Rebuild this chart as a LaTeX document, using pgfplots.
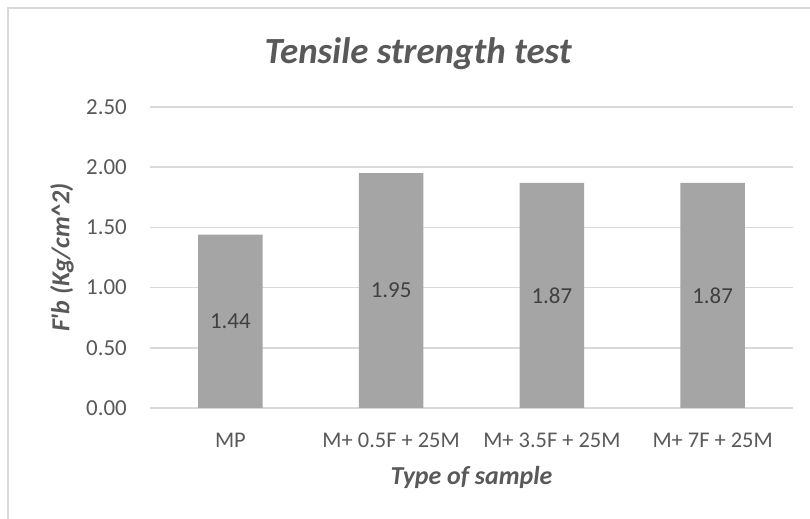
\documentclass[border=0pt]{standalone}
\usepackage{fontspec}
\setmainfont{Carlito}
\usepackage{pgfplots}
\pgfplotsset{compat=1.18}
\definecolor{barc}{HTML}{A5A5A5}
\definecolor{gridc}{HTML}{D9D9D9}
\definecolor{txt}{HTML}{595959}
\definecolor{lbl}{HTML}{404040}
\begin{document}
\begin{tikzpicture}[x=1bp,y=1bp]
\useasboundingbox (0,0) rectangle (810,519);
\fill[white] (0,0) rectangle (810,519);
\draw[gridc, line width=1.2bp] (8,-10) rectangle (830,511);
\begin{axis}[
  at={(150bp,111bp)}, anchor=south west,
  scale only axis, width=643bp, height=301bp,
  xmin=-0.5, xmax=3.5, ymin=0, ymax=2.5,
  ytick={0,0.5,1,1.5,2,2.5},
  xtick={0,1,2,3},
  xticklabels={MP, M+ 0.5F + 25M, M+ 3.5F + 25M, M+ 7F + 25M},
  axis line style={draw=none},
  tick style={draw=none},
  ymajorgrids, major grid style={gridc, line width=1.5bp},
  /pgf/number format/assume math mode=true,
  yticklabel={\pgfmathprintnumber[fixed,fixed zerofill,precision=2]{\tick}},
  yticklabel style={font=\fontsize{23}{27}\selectfont, text=txt, inner sep=0pt, anchor=east, xshift=-23bp},
  xticklabel style={font=\fontsize{22.5}{27}\selectfont, text=txt, inner sep=0pt, anchor=base, yshift=-40bp},
  title={Tensile strength test},
  title style={at={(axis description cs:0.417,1.123)}, anchor=base, font=\fontsize{37}{42}\selectfont\bfseries\itshape, text=txt, inner sep=0pt},
  xlabel={Type of sample},
  xlabel style={at={(axis description cs:0.5,0)}, anchor=base, yshift=-77bp, font=\fontsize{26}{30}\selectfont\bfseries\itshape, text=txt, inner sep=0pt},
  ylabel={F\textquotesingle b (Kg/cm\textasciicircum 2)},
  every axis y label/.style={at={(axis description cs:-0.137,0.5)}, rotate=90, anchor=center, font=\fontsize{26}{30}\selectfont\bfseries\itshape, text=txt, inner sep=0pt},
]
\addplot[ybar, bar width=0.4, fill=barc, draw=none,
  nodes near coords,
  visualization depends on=y \as \rawy,
  every node near coord/.append style={anchor=center, shift={(axis direction cs:0,-\rawy/2)}, font=\fontsize{23}{27}\selectfont, text=lbl},
  nodes near coords={\pgfmathprintnumber[fixed,fixed zerofill,precision=2]{\pgfplotspointmeta}},
  point meta=y,
] coordinates {(0,1.44) (1,1.95) (2,1.87) (3,1.87)};
\end{axis}
\end{tikzpicture}
\end{document}
